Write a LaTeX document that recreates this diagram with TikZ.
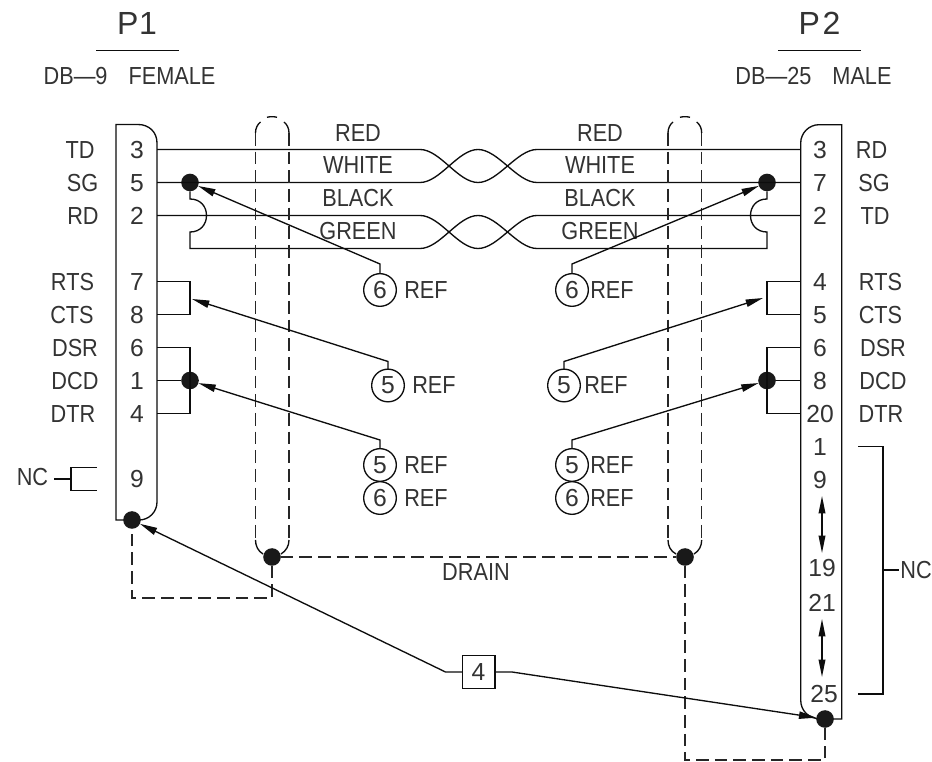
\documentclass[tikz,border=0pt]{standalone}
\usepackage{fontspec}
\setmainfont[FakeStretch=0.88]{Liberation Sans}
\newfontfamily\pinfont{Liberation Sans}
\usetikzlibrary{arrows.meta}
\tikzset{
  txt/.style={inner sep=0pt,outer sep=0pt,text=black!80,font=\fontsize{18.5}{20}\selectfont},
  pintxt/.style={inner sep=0pt,outer sep=0pt,text=black!80,font=\pinfont\fontsize{18.5}{20}\selectfont},
  bigtxt/.style={inner sep=0pt,outer sep=0pt,text=black!80,font=\pinfont\fontsize{24}{26}\selectfont},
  wire/.style={line width=1pt,black!95},
  shield/.style={line width=1pt,black!85,dash pattern=on 9.5pt off 4.5pt},
  refarrow/.style={line width=1pt,black!95,-{Stealth[inset=0pt,length=13pt,width=5.5pt]}},
  twoway/.style={line width=1pt,black!95,{Stealth[inset=0pt,length=13pt,width=5pt]}-{Stealth[inset=0pt,length=13pt,width=5pt]}},
  jdot/.style={circle,fill=black!90,draw=none,minimum size=13.2pt,inner sep=0pt,outer sep=0pt},
  callout/.style={circle,draw=black!95,line width=1pt,minimum size=24.5pt,inner sep=0pt,outer sep=0pt,text=black!80,font=\pinfont\fontsize{18.5}{20}\selectfont},
  tagbox/.style={rectangle,draw=black!95,line width=1pt,minimum size=24.5pt,inner sep=0pt,outer sep=0pt,text=black!80,font=\pinfont\fontsize{18.5}{20}\selectfont}
}
\begin{document}
\begin{tikzpicture}[x=0.75pt,y=-0.75pt]
\fill[white] (0,0) rectangle (932,762);
\useasboundingbox (0,0) rectangle (932,762);

% headers
\node[bigtxt] (p1) at (137,23) {P\kern0.5pt 1};
\node[bigtxt] (p2) at (819.5,23) {P\kern2pt 2};
\coordinate (p1a) at (96,50.5); \coordinate (p1b) at (179,50.5);
\coordinate (p2a) at (778,50.5); \coordinate (p2b) at (861,50.5);
\draw[wire] (p1a) -- (p1b);
\draw[wire] (p2a) -- (p2b);
\node[txt] (p1t) at (129.5,76) {DB—9\hspace{15.75pt}FEMALE};
\node[txt] (p2t) at (813.5,76) {DB—25\hspace{15.75pt}MALE};

% connector bodies
\draw[wire] (116,124.5) -- (138,124.5) .. controls (149,124.5) and (157,132) .. (157,143) -- (157,502) .. controls (157,512) and (149,520) .. (139,520) -- (116,520) -- cycle;
\draw[wire] (841.7,124.7) -- (819,124.7) .. controls (809,124.7) and (800.7,133) .. (800.7,143) -- (800.7,700) .. controls (800.7,711) and (809,719) .. (821,719) -- (841.7,719) -- cycle;

% left pins
\node[pintxt] (lp3) at (137,150) {3};
\node[pintxt] (lp5) at (137,183) {5};
\node[pintxt] (lp2) at (137,216) {2};
\node[pintxt] (lp7) at (137,282) {7};
\node[pintxt] (lp8) at (137,315) {8};
\node[pintxt] (lp6) at (137,348) {6};
\node[pintxt] (lp1) at (137,381) {1};
\node[pintxt] (lp4) at (137,414) {4};
\node[pintxt] (lp9) at (137,479.5) {9};
\node[txt] (ltd) at (80,150) {TD};
\node[txt] (lsg) at (82.5,183) {SG};
\node[txt] (lrd) at (83,216) {RD};
\node[txt] (lrts) at (72.5,282) {RTS};
\node[txt] (lcts) at (72,315) {CTS};
\node[txt] (ldsr) at (75,348) {DSR};
\node[txt] (ldcd) at (75,381) {DCD};
\node[txt] (ldtr) at (73,414) {DTR};
\node[txt] (lnc) at (32.5,477) {NC};

% right pins
\node[pintxt] (rp3) at (820,150) {3};
\node[pintxt] (rp7) at (820,183) {7};
\node[pintxt] (rp2) at (820,216) {2};
\node[pintxt] (rp4) at (820,282) {4};
\node[pintxt] (rp5) at (820,315) {5};
\node[pintxt] (rp6) at (820,348) {6};
\node[pintxt] (rp8) at (820,381) {8};
\node[pintxt] (rp20) at (820,414) {20};
\node[pintxt] (rp1) at (820,447) {1};
\node[pintxt] (rp9) at (820,480) {9};
\node[pintxt] (rp19) at (822,568.5) {19};
\node[pintxt] (rp21) at (822,602.5) {21};
\node[pintxt] (rp25) at (824,694.5) {25};
\node[txt] (rrd) at (871.5,150) {RD};
\node[txt] (rsg) at (874,183) {SG};
\node[txt] (rtd) at (875,216) {TD};
\node[txt] (rrts) at (880.5,282) {RTS};
\node[txt] (rcts) at (880.5,315) {CTS};
\node[txt] (rdsr) at (883,348) {DSR};
\node[txt] (rdcd) at (883,381) {DCD};
\node[txt] (rdtr) at (881,414) {DTR};
\node[txt] (rnc) at (916,570) {NC};

% wire labels
\node[txt] (w1) at (358,133) {RED};
\node[txt] (w2) at (358,165.5) {WHITE};
\node[txt] (w3) at (358,198) {BLACK};
\node[txt] (w4) at (358,231) {GREEN};
\node[txt] (w5) at (600,133) {RED};
\node[txt] (w6) at (600,165.5) {WHITE};
\node[txt] (w7) at (600,198) {BLACK};
\node[txt] (w8) at (600,231) {GREEN};
\node[txt] (drain) at (476,572) {DRAIN};

% junction dots
\node[jdot] (dsgl) at (190,182.5) {};
\node[jdot] (dsgr) at (767,182.5) {};
\node[jdot] (ddcl) at (190,380.5) {};
\node[jdot] (ddcr) at (767,380.5) {};
\node[jdot] (dp1) at (132,520) {};
\node[jdot] (dp2) at (825,719) {};
\node[jdot] (dshl) at (272,557) {};
\node[jdot] (dshr) at (685,557) {};

% twisted pairs
\draw[wire] (157,149.5) -- (420,149.5) .. controls (440,149.5) and (458,182.5) .. (478,182.5) .. controls (498,182.5) and (517,149.5) .. (537,149.5) -- (800.7,149.5);
\draw[wire] (157,182.5) -- (420,182.5) .. controls (440,182.5) and (458,149.5) .. (478,149.5) .. controls (498,149.5) and (517,182.5) .. (537,182.5) -- (800.7,182.5);
\draw[wire] (157,215.5) -- (420,215.5) .. controls (440,215.5) and (458,248.5) .. (478,248.5) .. controls (498,248.5) and (517,215.5) .. (537,215.5) -- (800.7,215.5);
\draw[wire] (dsgl) -- (190,199) .. controls (200,199) and (206.5,206) .. (206.5,215.5) .. controls (206.5,225) and (200,232) .. (190,232) -- (190,248.5) -- (420,248.5) .. controls (440,248.5) and (458,215.5) .. (478,215.5) .. controls (498,215.5) and (517,248.5) .. (537,248.5) -- (767,248.5) -- (767,232) .. controls (757,232) and (750.5,225) .. (750.5,215.5) .. controls (750.5,206) and (757,199) .. (767,199) -- (dsgr);

% jumpers
\draw[wire] (157,281.5) -- (190,281.5) -- (190,314.5) -- (157,314.5);
\draw[wire] (157,347.5) -- (190,347.5) -- (190,413.5) -- (157,413.5);
\draw[wire] (157,380.5) -- (ddcl);
\draw[wire] (800.7,281.5) -- (767,281.5) -- (767,314.5) -- (800.7,314.5);
\draw[wire] (800.7,347.5) -- (767,347.5) -- (767,413.5) -- (800.7,413.5);
\draw[wire] (800.7,380.5) -- (ddcr);

% shields
\draw[shield] (255.5,133) -- (255.5,540);
\draw[shield] (289,133) -- (289,540);
\draw[shield] (668,133) -- (668,540);
\draw[shield] (701.7,133) -- (701.7,540);
\draw[wire] (255.5,133) .. controls (255.5,128) and (257.5,124.5) .. (260.5,122);
\draw[wire] (267,117.3) .. controls (270,116.5) and (274,116.5) .. (277,117.3);
\draw[wire] (289,133) .. controls (289,128) and (287,124.5) .. (284,122);
\draw[wire] (668,133) .. controls (668,128) and (670,124.5) .. (673,122);
\draw[wire] (680,117.3) .. controls (683,116.5) and (687,116.5) .. (690,117.3);
\draw[wire] (701.7,133) .. controls (701.7,128) and (699.7,124.5) .. (696.7,122);
\draw[wire] (255.5,540) .. controls (255.5,546) and (258,551) .. (263,554);
\draw[wire] (289,540) .. controls (289,546) and (286,551) .. (281,554);
\draw[wire] (668,540) .. controls (668,546) and (670.5,551) .. (676,554);
\draw[wire] (701.7,540) .. controls (701.7,546) and (699,551) .. (694,554);

% drains
\draw[shield] (dshl) -- (dshr);
\draw[shield] (dshl) -- (272,598) -- (132,598) -- (dp1);
\draw[shield] (dshr) -- (685,760) -- (825,760) -- (dp2);

% NC brackets
\coordinate (ncs) at (54,479);
\draw[wire] (ncs) -- (71,479);
\draw[wire] (96.5,467.5) -- (71,467.5) -- (71,490.7) -- (96.5,490.7);
\draw[wire] (858,446.7) -- (883,446.7) -- (883,694) -- (858,694);
\draw[wire] (883,570) -- (899,570);

% double arrows
\draw[twoway] (822,496) -- (822,553);
\draw[twoway] (822,619) -- (822,677);

% callouts
\node[callout] (c6l) at (380,290) {6};
\node[txt] (r6l) at (426,290) {REF};
\node[callout] (c6r) at (572,290) {6};
\node[txt] (r6r) at (612,290) {REF};
\node[callout] (c5l) at (388,385.5) {5};
\node[txt] (r5l) at (434,385.5) {REF};
\node[callout] (c5r) at (564,385.5) {5};
\node[txt] (r5r) at (606,385.5) {REF};
\node[callout] (c5ll) at (380,465) {5};
\node[txt] (r5ll) at (426,465) {REF};
\node[callout] (c6ll) at (380,498) {6};
\node[txt] (r6ll) at (426,498) {REF};
\node[callout] (c5lr) at (572,465) {5};
\node[txt] (r5lr) at (612,465) {REF};
\node[callout] (c6lr) at (572,498) {6};
\node[txt] (r6lr) at (612,498) {REF};

\coordinate (rtsl) at (192,299);
\coordinate (rtsr) at (763,298);
\draw[refarrow] (c6l.north) -- (380,264) -- (dsgl);
\draw[refarrow] (c6r.north) -- (572,264) -- (dsgr);
\draw[refarrow] (c5l.north) -- (388,361.5) -- (rtsl);
\draw[refarrow] (c5r.north) -- (564,361.5) -- (rtsr);
\draw[refarrow] (c5ll.north) -- (380,440) -- (ddcl);
\draw[refarrow] (c5lr.north) -- (572,440) -- (ddcr);

% tag 4
\node[tagbox] (tag) at (478.5,672) {4};
\draw[refarrow] (tag.west) -- (445.5,672) -- (dp1);
\draw[refarrow] (tag.east) -- (512,672) -- (dp2);
\end{tikzpicture}
\end{document}
